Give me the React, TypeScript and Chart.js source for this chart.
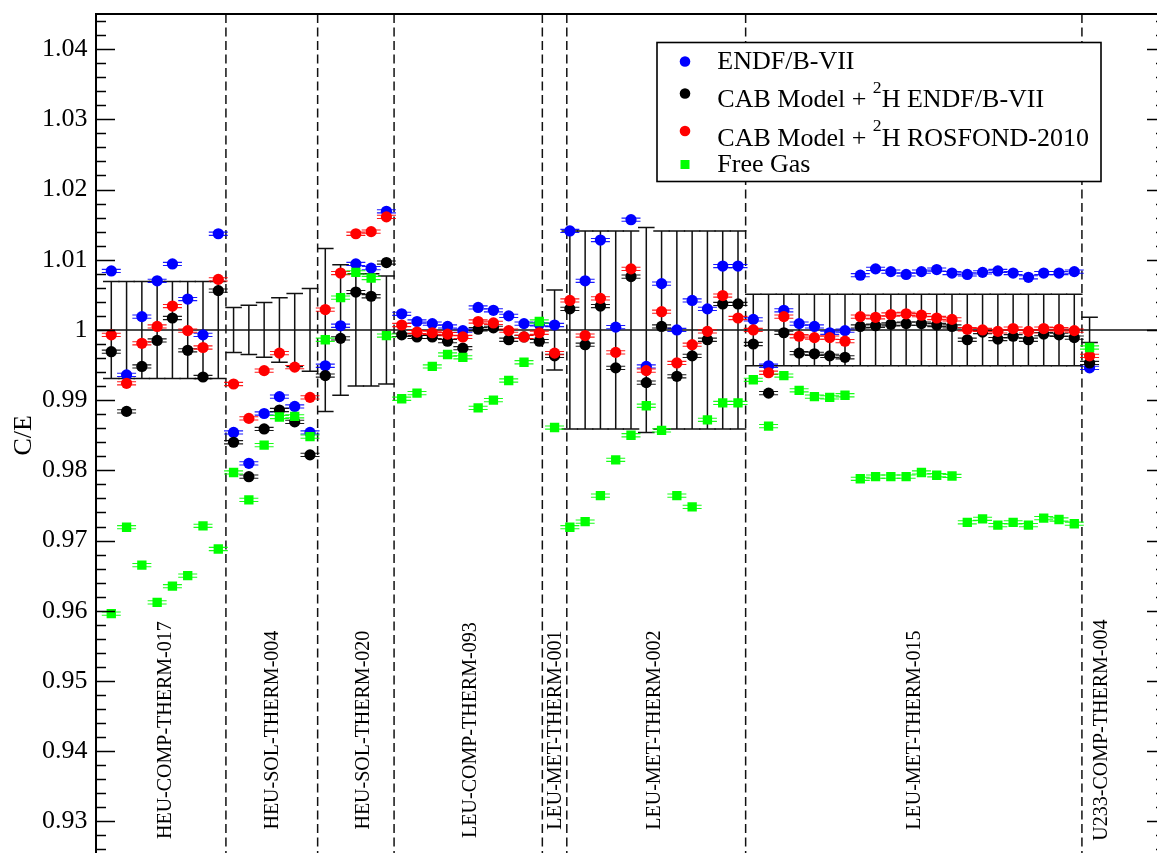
import React, { useEffect, useRef } from "react";
import { Chart, registerables } from "chart.js";

Chart.register(...registerables);

// ---------- data ----------
const caseNumbers = [
  1, 2, 3, 4, 5, 6, 7, 8, 9, 10, 11, 12, 13, 14, 15, 16, 17, 18, 19, 20,
  21, 22, 23, 24, 25, 26, 27, 28, 29, 30, 31, 32, 33, 34, 35, 36, 37, 38, 39, 40,
  41, 42, 43, 44, 45, 46, 47, 48, 49, 50, 51, 52, 53, 54, 55, 56, 57, 58, 59, 60,
  61, 62, 63, 64, 65,
];

const endfB7 = [
  1.0084, 0.9936, 1.0019, 1.007, 1.0094, 1.0044, 0.9993, 1.0137,
  0.9854, 0.981, 0.9881, 0.9905, 0.9891, 0.9854,
  0.9949, 1.0006, 1.0094, 1.0088, 1.0169,
  1.0023, 1.0012, 1.0009, 1.0005, 0.9999, 1.0032, 1.0028, 1.002, 1.0009, 1.0008,
  1.0007,
  1.0141, 1.007, 1.0128, 1.0004, 1.0157, 0.9948, 1.0066, 1.0, 1.0042, 1.003, 1.0091, 1.0091,
  1.0015, 0.9949, 1.0028, 1.0009, 1.0005, 0.9996, 0.9999, 1.0078, 1.0087, 1.0083, 1.0079,
  1.0083, 1.0086, 1.0081, 1.0079, 1.0082, 1.0084, 1.0081, 1.0075, 1.0081, 1.0081, 1.0083,
  0.9946,
];

const cabEndf = [
  0.9969, 0.9884, 0.9948, 0.9985, 1.0017, 0.9971, 0.9933, 1.0056,
  0.984, 0.9791, 0.9859, 0.9886, 0.9869, 0.9822,
  0.9935, 0.9988, 1.0054, 1.0048, 1.0096,
  0.9993, 0.999, 0.999, 0.9984, 0.9974, 1.0001, 1.0003, 0.9986, 0.999, 0.9984,
  0.9963,
  1.003, 0.9979, 1.0034, 0.9946, 1.0076, 0.9925, 1.0005, 0.9934, 0.9963, 0.9986, 1.0037, 1.0037,
  0.998, 0.991, 0.9996, 0.9967, 0.9966, 0.9963, 0.9961, 1.0005, 1.0006, 1.0008, 1.0009,
  1.0009, 1.0007, 1.0005, 0.9986, 0.9997, 0.9987, 0.9991, 0.9986, 0.9994, 0.9993, 0.9989,
  0.9953,
];

const cabRosfond = [
  0.9993, 0.9924, 0.9981, 1.0005, 1.0034, 0.9999, 0.9975, 1.0072,
  0.9923, 0.9874, 0.9942, 0.9967, 0.9947, 0.9904,
  1.0029, 1.0081, 1.0137, 1.014, 1.0161,
  1.0007, 0.9997, 0.9996, 0.9994, 0.999, 1.0012, 1.001, 0.9999, 0.999, 0.9996,
  0.9967,
  1.0042, 0.9992, 1.0045, 0.9968, 1.0087, 0.9942, 1.0026, 0.9953, 0.9979, 0.9998, 1.0049, 1.0017,
  1.0, 0.9939, 1.0019, 0.9991, 0.9989, 0.9989, 0.9984, 1.0019, 1.0018, 1.0022, 1.0023,
  1.0021, 1.0017, 1.0015, 1.0001, 1.0, 0.9998, 1.0002, 0.9998, 1.0002, 1.0001, 0.9999,
  0.9963,
];

const freeGas = [
  0.9596, 0.9719, 0.9665, 0.9612, 0.9635, 0.965, 0.9721, 0.9688,
  0.9797, 0.9758, 0.9836, 0.9876, 0.9877, 0.9848,
  0.9986, 1.0046, 1.0082, 1.0074, 0.9992,
  0.9902, 0.991, 0.9948, 0.9965, 0.9961, 0.9889, 0.99, 0.9928, 0.9954, 1.0012,
  0.9861,
  0.9719, 0.9727, 0.9764, 0.9815, 0.985, 0.9892, 0.9857, 0.9764, 0.9748, 0.9872, 0.9896, 0.9896,
  0.9929, 0.9863, 0.9935, 0.9914, 0.9905, 0.9904, 0.9907, 0.9788, 0.9791, 0.9791, 0.9791,
  0.9797, 0.9793, 0.9792, 0.9726, 0.9731, 0.9722, 0.9726, 0.9722, 0.9732, 0.973, 0.9724,
  0.9975,
];

// experimental uncertainty (1 sigma) per case, drawn around C/E = 1
const expUncertainty = [
  0.0069, 0.0069, 0.0069, 0.0069, 0.0069, 0.0069, 0.0069, 0.0069,
  0.0032, 0.0035, 0.0039, 0.0046, 0.0052, 0.0059,
  0.0116, 0.0093, 0.008, 0.008, 0.0077,
  0, 0, 0, 0, 0, 0, 0, 0, 0, 0,
  0.0057,
  0.0141, 0.0141, 0.0141, 0.0141, 0.0141, 0.0146, 0.0141, 0.0141, 0.0141, 0.0141, 0.0141, 0.0141,
  0.0051, 0.0051, 0.0051, 0.0051, 0.0051, 0.0051, 0.0051, 0.0051, 0.0051, 0.0051, 0.0051,
  0.0051, 0.0051, 0.0051, 0.0051, 0.0051, 0.0051, 0.0051, 0.0051, 0.0051, 0.0051, 0.0051,
  0.0018,
];

const groupNames = [
  "HEU-COMP-THERM-017",
  "HEU-SOL-THERM-004",
  "HEU-SOL-THERM-020",
  "LEU-COMP-THERM-093",
  "LEU-MET-THERM-001",
  "LEU-MET-THERM-002",
  "LEU-MET-THERM-015",
  "U233-COMP-THERM-004",
];
const groupLabelX = [4.53, 11.51, 17.45, 24.48, 30.04, 36.49, 53.47, 65.75];
const groupLabelY = 0.943;
const separatorsX = [8.5, 14.5, 19.5, 29.2, 30.8, 42.5, 64.5];

const seriesNames = [
  "ENDF/B-VII",
  "CAB Model + ^{2}H ENDF/B-VII",
  "CAB Model + ^{2}H ROSFOND-2010",
  "Free Gas",
];
const seriesColors = ["#0000ff", "#000000", "#ff0000", "#00ff00"];

const yTickValues = [0.93, 0.94, 0.95, 0.96, 0.97, 0.98, 0.99, 1.0, 1.01, 1.02, 1.03, 1.04];
const yMin = 0.925;
const yMax = 1.045;
const xMin = 0;
const xMax = 70;
const minorStep = 0.002;
const yTitle = "C/E";

// ---------- helpers ----------
const SERIF = "'Liberation Serif', 'Times New Roman', serif";

function drawRich(ctx: CanvasRenderingContext2D, text: string, x: number, y: number, size: number) {
  const parts = text.split(/(\^\{[^}]*\})/);
  let cx = x;
  for (const p of parts) {
    if (!p) continue;
    const m = p.match(/^\^\{([^}]*)\}$/);
    if (m) {
      ctx.font = `${size * 0.68}px ${SERIF}`;
      ctx.fillText(m[1], cx, y - size * 0.56);
      cx += ctx.measureText(m[1]).width;
    } else {
      ctx.font = `${size}px ${SERIF}`;
      ctx.fillText(p, cx, y);
      cx += ctx.measureText(p).width;
    }
  }
}

const decorPlugin = {
  id: "decor",
  beforeDatasetsDraw(chart: any) {
    const { ctx, chartArea: a, scales } = chart;
    const xs = scales.x;
    const ys = scales.y;
    ctx.save();

    // experimental uncertainty bars
    ctx.strokeStyle = "#111";
    ctx.lineWidth = 1.5;
    caseNumbers.forEach((c, i) => {
      const u = expUncertainty[i];
      if (!u) return;
      const px = xs.getPixelForValue(c);
      const top = ys.getPixelForValue(1 + u);
      const bot = ys.getPixelForValue(1 - u);
      ctx.beginPath();
      ctx.moveTo(px, top);
      ctx.lineTo(px, bot);
      ctx.moveTo(px - 8.3, top);
      ctx.lineTo(px + 8.3, top);
      ctx.moveTo(px - 8.3, bot);
      ctx.lineTo(px + 8.3, bot);
      ctx.stroke();
    });

    // reference line C/E = 1
    const y1 = ys.getPixelForValue(1);
    ctx.lineWidth = 1.6;
    ctx.strokeStyle = "#111";
    ctx.beginPath();
    ctx.moveTo(a.left, y1);
    ctx.lineTo(a.right, y1);
    ctx.stroke();

    // separators
    ctx.setLineDash([9, 4.5]);
    ctx.lineWidth = 1.5;
    separatorsX.forEach((s) => {
      const px = xs.getPixelForValue(s);
      ctx.beginPath();
      ctx.moveTo(px, a.top);
      ctx.lineTo(px, a.bottom);
      ctx.stroke();
    });
    ctx.setLineDash([]);

    // group labels
    ctx.fillStyle = "#000";
    ctx.font = `20px ${SERIF}`;
    ctx.textAlign = "center";
    ctx.textBaseline = "middle";
    groupNames.forEach((g, i) => {
      const px = xs.getPixelForValue(groupLabelX[i]);
      const py = ys.getPixelForValue(groupLabelY);
      ctx.save();
      ctx.translate(px, py);
      ctx.rotate(-Math.PI / 2);
      ctx.fillText(g, 0, 1);
      ctx.restore();
    });
    ctx.restore();
  },
  beforeDatasetDraw(chart: any, args: any) {
    const { ctx } = chart;
    const ds = chart.data.datasets[args.index];
    ctx.save();
    ctx.strokeStyle = ds.backgroundColor;
    ctx.lineWidth = 1.1;
    ctx.globalAlpha = 0.9;
    args.meta.data.forEach((pt: any) => {
      const { x, y } = pt;
      ctx.beginPath();
      ctx.moveTo(x - 9.5, y - 1.6);
      ctx.lineTo(x + 9.5, y - 1.6);
      ctx.moveTo(x - 9.5, y + 1.6);
      ctx.lineTo(x + 9.5, y + 1.6);
      ctx.stroke();
    });
    ctx.restore();
  },
  afterDraw(chart: any) {
    const { ctx, chartArea: a, scales } = chart;
    const ys = scales.y;
    ctx.save();
    // frame
    ctx.strokeStyle = "#000";
    ctx.lineWidth = 2;
    ctx.strokeRect(a.left, a.top, a.right - a.left, a.bottom - a.top);

    // ticks (inward)
    ctx.lineWidth = 1.4;
    ctx.beginPath();
    for (let v = yMin + minorStep / 2; v < yMax; v += minorStep) {
      const val = Math.round(v / minorStep) * minorStep;
      if (val <= yMin || val >= yMax) continue;
      const isMajor = Math.abs(val * 100 - Math.round(val * 100)) < 1e-6;
      const len = isMajor ? 19 : 10;
      const py = Math.round(ys.getPixelForValue(val)) + 0.5;
      ctx.moveTo(a.left, py);
      ctx.lineTo(a.left + len, py);
      ctx.moveTo(a.right, py);
      ctx.lineTo(a.right - len, py);
    }
    ctx.stroke();

    // y title
    ctx.fillStyle = "#000";
    ctx.font = `26px ${SERIF}`;
    ctx.textAlign = "center";
    ctx.textBaseline = "middle";
    ctx.save();
    ctx.translate(a.left - 72, (a.top + a.bottom) / 2);
    ctx.rotate(-Math.PI / 2);
    ctx.fillText(yTitle, 0, 0);
    ctx.restore();

    // legend
    const L = { x: 657, y: 42.5, w: 444, h: 139 };
    ctx.fillStyle = "#fff";
    ctx.fillRect(L.x, L.y, L.w, L.h);
    ctx.strokeStyle = "#000";
    ctx.lineWidth = 1.6;
    ctx.strokeRect(L.x, L.y, L.w, L.h);
    const baselines = [69, 107.3, 145.7, 172.3];
    const markerY = [61.5, 93.5, 131, 164.5];
    seriesNames.forEach((name, i) => {
      ctx.fillStyle = seriesColors[i];
      if (i === 3) {
        ctx.fillRect(685 - 4.5, markerY[i] - 4.5, 9, 9);
      } else {
        ctx.beginPath();
        ctx.arc(685, markerY[i], 5.3, 0, Math.PI * 2);
        ctx.fill();
      }
      ctx.fillStyle = "#000";
      ctx.textAlign = "left";
      ctx.textBaseline = "alphabetic";
      drawRich(ctx, name, 717.3, baselines[i], 26);
    });
    ctx.restore();
  },
};

export default function App() {
  const ref = useRef<HTMLCanvasElement | null>(null);

  useEffect(() => {
    if (!ref.current) return;
    const series = [endfB7, cabEndf, cabRosfond, freeGas];
    const orders = [3, 2, 1, 0];
    const datasets = series.map((vals, si) => ({
      label: seriesNames[si].replace("^{2}", "²"),
      data: vals.map((v, i) => ({ x: caseNumbers[i], y: v })),
      backgroundColor: seriesColors[si],
      borderColor: seriesColors[si],
      borderWidth: 0,
      pointStyle: si === 3 ? "rect" : "circle",
      pointRadius: si === 3 ? 6.6 : 5.6,
      pointHoverRadius: si === 3 ? 6.6 : 5.6,
      pointBorderWidth: 0,
      showLine: false,
      order: orders[si],
    }));

    const chart = new Chart(ref.current, {
      type: "scatter",
      data: { datasets },
      options: {
        responsive: false,
        animation: false,
        layout: { padding: { top: 14, right: 34, bottom: 43.5, left: 0 } },
        plugins: {
          legend: { display: false },
          tooltip: { enabled: false },
        },
        scales: {
          x: { type: "linear", min: xMin, max: xMax, display: false },
          y: {
            type: "linear",
            min: yMin,
            max: yMax,
            afterFit: (s: any) => {
              s.width = 96;
              s.paddingTop = 0;
              s.paddingBottom = 0;
            },
            afterBuildTicks: (s: any) => {
              s.ticks = yTickValues.map((v) => ({ value: v }));
            },
            ticks: {
              callback: (v: any) => String(Number(Number(v).toFixed(2))),
              font: { family: "Liberation Serif", size: 26 },
              color: "#000",
              padding: 8.5,
            },
            grid: { display: false, drawTicks: false },
            border: { display: false },
          },
        },
      } as any,
      plugins: [decorPlugin as any],
    });
    return () => chart.destroy();
  }, []);

  return (
    <div
      style={{
        position: "fixed",
        left: 0,
        top: 0,
        width: 1157,
        height: 853,
        overflow: "hidden",
        background: "#fff",
      }}
    >
      <canvas ref={ref} width={1200} height={900} style={{ display: "block", width: 1200, height: 900 }} />
    </div>
  );
}
